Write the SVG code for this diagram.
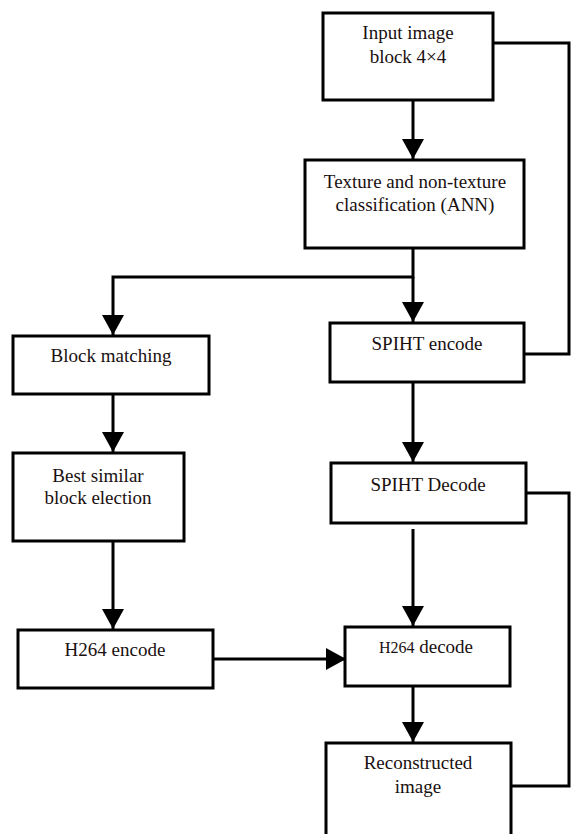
<svg xmlns="http://www.w3.org/2000/svg" width="573" height="834" viewBox="0 0 573 834">
<style>
.box{fill:#fff;stroke:#000;stroke-width:3}
.lbl{font-family:"Liberation Serif","Times New Roman",serif;font-size:19px;fill:#1a1010;text-anchor:middle}
.ln{fill:none;stroke:#000;stroke-width:3}
</style>
<defs>
<marker id="ah" markerUnits="userSpaceOnUse" markerWidth="24" markerHeight="24" viewBox="0 0 24 24" refX="22" refY="12" orient="auto">
<path d="M2,1 L22,12 L2,23 Z" fill="#000"/>
</marker>
</defs>
<rect width="573" height="834" fill="#fff"/>
<g id="connectors">
<path class="ln" d="M413,100 V159" marker-end="url(#ah)"/>
<path class="ln" d="M413,248 V277 H113 V335" marker-end="url(#ah)"/>
<path class="ln" d="M413,277 V322" marker-end="url(#ah)"/>
<path class="ln" d="M113,394 V452" marker-end="url(#ah)"/>
<path class="ln" d="M413,382 V462" marker-end="url(#ah)"/>
<path class="ln" d="M113,541 V629" marker-end="url(#ah)"/>
<path class="ln" d="M413,529 V626" marker-end="url(#ah)"/>
<path class="ln" d="M207,659 H346" marker-end="url(#ah)"/>
<path class="ln" d="M413,686 V742" marker-end="url(#ah)"/>
<path class="ln" d="M493,43 H569 V354 H524"/>
<path class="ln" d="M526,493 H569 V786 H511"/>
</g>
<g id="input">
<rect class="box" x="323" y="13" width="170" height="87"/>
<text class="lbl" x="408" y="39">Input image</text>
<text class="lbl" x="408" y="63">block 4×4</text>
</g>
<g id="texture">
<rect class="box" x="305" y="160" width="219" height="88"/>
<text class="lbl" x="415" y="188">Texture and non-texture</text>
<text class="lbl" x="415" y="211">classification (ANN)</text>
</g>
<g id="blockmatching">
<rect class="box" x="13" y="336" width="196" height="58"/>
<text class="lbl" x="111" y="362">Block matching</text>
</g>
<g id="spihtencode">
<rect class="box" x="330" y="323" width="194" height="59"/>
<text class="lbl" x="427" y="350">SPIHT encode</text>
</g>
<g id="bestsimilar">
<rect class="box" x="13" y="453" width="171" height="88"/>
<text class="lbl" x="98" y="482">Best similar</text>
<text class="lbl" x="98" y="504">block election</text>
</g>
<g id="spihtdecode">
<rect class="box" x="331" y="463" width="195" height="60"/>
<text class="lbl" x="428" y="491">SPIHT Decode</text>
</g>
<g id="h264encode">
<rect class="box" x="18" y="630" width="195" height="58"/>
<text class="lbl" x="115" y="656">H264 encode</text>
</g>
<g id="h264decode">
<rect class="box" x="345" y="627" width="165" height="59"/>
<text class="lbl" x="426" y="653"><tspan font-size="16">H264</tspan> decode</text>
</g>
<g id="reconstructed">
<rect class="box" x="326" y="743" width="185" height="96"/>
<text class="lbl" x="418" y="769">Reconstructed</text>
<text class="lbl" x="418" y="793">image</text>
</g>
</svg>
